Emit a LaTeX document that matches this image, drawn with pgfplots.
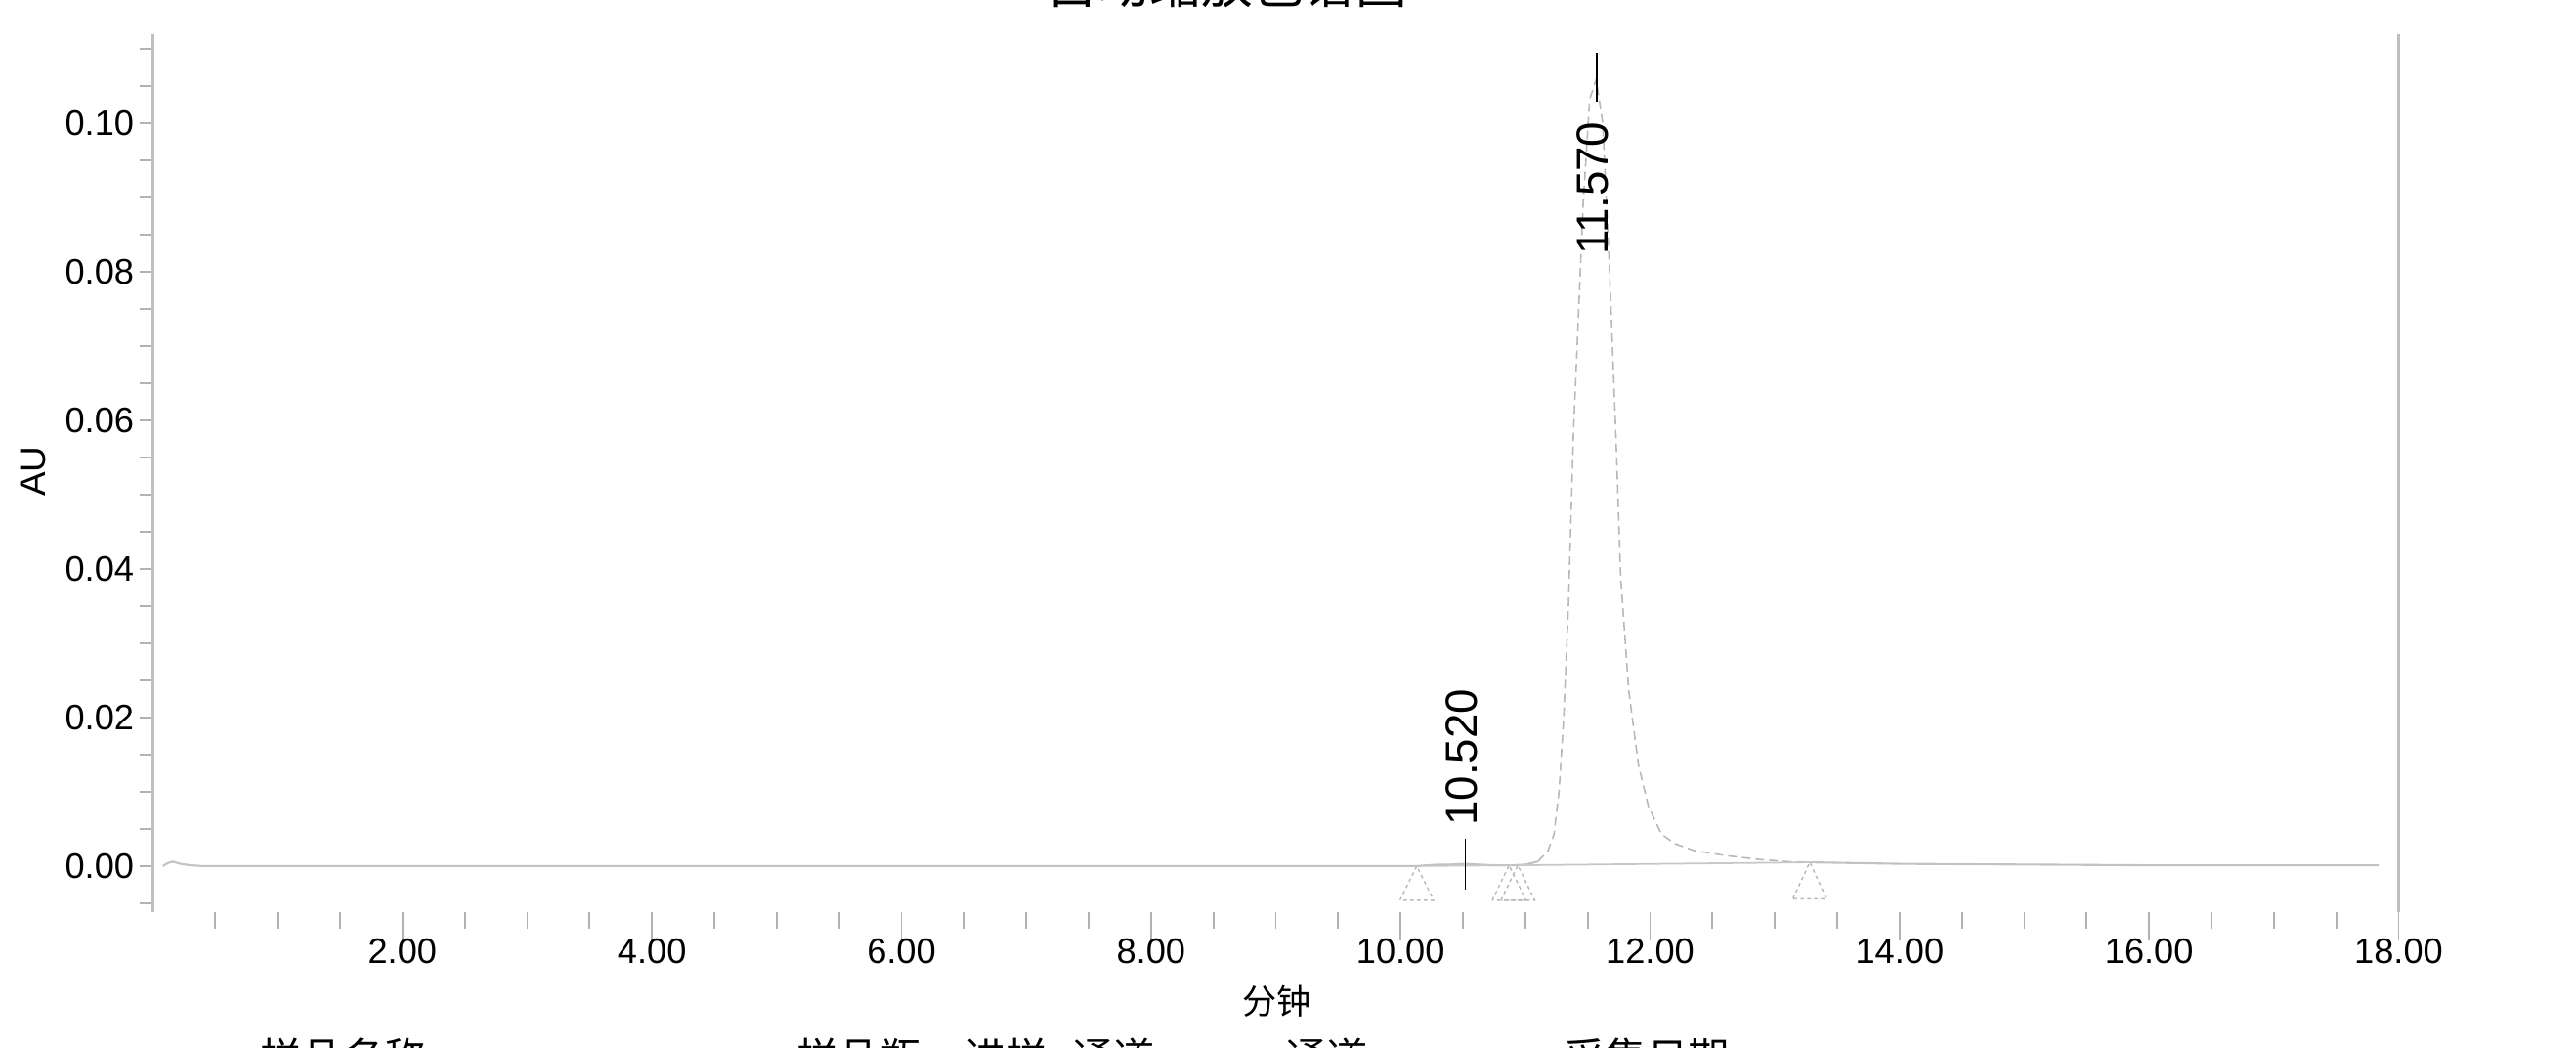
\documentclass[border=0pt]{standalone}
\usepackage{pgfplots}
\pgfplotsset{compat=1.18}
\usepackage{fontspec}
\setmainfont{Liberation Sans}
\newfontfamily\cjk{Noto Sans CJK SC}

\pgfplotstableread{
x y
0.08 0.0000
0.12 0.0004
0.16 0.0006
0.22 0.0003
0.30 0.0001
0.40 0.0000
2.00 0.0000
5.00 0.0000
8.00 0.0000
10.00 0.0000
10.13 0.0000
10.30 0.0002
10.40 0.0002
10.52 0.0003
10.62 0.0002
10.75 0.0001
10.90 0.0001
11.00 0.0002
11.10 0.0006
}\traceA

\pgfplotstableread{
x y
11.10 0.0006
11.18 0.0020
11.23 0.0043
11.27 0.0100
11.307 0.0197
11.346 0.0352
11.386 0.0584
11.425 0.0738
11.464 0.0893
11.516 0.1032
11.568 0.1059
11.62 0.1001
11.672 0.0815
11.725 0.0584
11.764 0.0390
11.829 0.0236
11.908 0.0135
11.986 0.0081
12.09 0.0043
12.20 0.0030
12.35 0.0021
12.61 0.0014
12.87 0.0009
13.10 0.0006
13.28 0.0005
}\peak

\pgfplotstableread{
x y
13.28 0.0005
14.00 0.0003
15.00 0.0002
16.00 0.0001
17.00 0.0001
17.84 0.0001
}\traceB

\begin{document}
\begin{tikzpicture}
\useasboundingbox (-1.565,-1.39) rectangle (24.795,9.33);
% y-axis (ticks and labels)
\begin{axis}[
  at={(0,0)}, anchor=south west,
  scale only axis, width=22.98cm, height=8.983cm,
  xmin=0, xmax=18, ymin=-0.0062, ymax=0.112,
  axis x line=none, axis y line*=left,
  y axis line style={black!25, line width=0.6pt, -},
  xtick=\empty,
  ytick={0,0.02,0.04,0.06,0.08,0.1},
  minor ytick={-0.005,0.005,0.01,0.015,0.025,0.03,0.035,0.045,0.05,0.055,0.065,0.07,0.075,0.085,0.09,0.095,0.105,0.11},
  tick align=outside,
  major tick length=0.13cm, minor tick length=0.13cm,
  tick style={black!30, line width=0.5pt},
  yticklabel style={font=\fontsize{10.3}{12}\selectfont, xshift=0.06cm},
  /pgf/number format/fixed, /pgf/number format/fixed zerofill,
  /pgf/number format/precision=2, /pgf/number format/assume math mode=true,
  ylabel={AU},
  ylabel style={at={(axis description cs:-0.0533,0.502)}, anchor=center, font=\fontsize{10.5}{12}\selectfont},
  scaled y ticks=false,
]
\end{axis}
% main axis (x ticks and data)
\begin{axis}[
  at={(0,0)}, anchor=south west,
  scale only axis, width=22.98cm, height=8.983cm,
  xmin=0, xmax=18, ymin=-0.0062, ymax=0.112,
  axis x line*=bottom, axis y line=none,
  x axis line style={draw=none},
  ytick=\empty,
  xtick={2,4,6,8,10,12,14,16,18},
  minor xtick={0.5,1,1.5,2.5,3,3.5,4.5,5,5.5,6.5,7,7.5,8.5,9,9.5,10.5,11,11.5,12.5,13,13.5,14.5,15,15.5,16.5,17,17.5},
  extra x ticks={18}, extra x tick labels={},
  extra x tick style={grid=major, major grid style={black!25, line width=0.6pt}},
  tick align=outside,
  major tick length=0.29cm, minor tick length=0.17cm,
  tick style={black!30, line width=0.5pt},
  xticklabel style={font=\fontsize{10.3}{12}\selectfont, yshift=0.14cm},
  /pgf/number format/fixed, /pgf/number format/fixed zerofill,
  /pgf/number format/precision=2, /pgf/number format/assume math mode=true,
  xlabel={\cjk 分钟},
  xlabel style={at={(axis description cs:0.5004,-0.1013)}, anchor=center, font=\fontsize{10}{12}\selectfont},
  clip=false,
]
\addplot[black!24, line width=0.6pt] table[x=x,y=y] {\traceA};
\addplot[black!24, line width=0.6pt] table[x=x,y=y] {\traceB};
\addplot[black!28, line width=0.45pt, dash pattern=on 2.5pt off 1.5pt] table[x=x,y=y] {\peak};
% integration baselines
\addplot[black!22, line width=0.5pt] coordinates {(10.13,0.0000) (10.89,0.0001)};
\addplot[black!22, line width=0.5pt] coordinates {(10.94,0.0001) (13.28,0.0005)};
% peak start/end triangles
\addplot[black!28, line width=0.4pt, dash pattern=on 1pt off 1pt] coordinates {(9.995,-0.0046) (10.13,0.0000) (10.265,-0.0046) (9.995,-0.0046)};
\addplot[black!28, line width=0.4pt, dash pattern=on 1pt off 1pt] coordinates {(10.735,-0.0046) (10.87,0.0001) (11.005,-0.0046) (10.735,-0.0046)};
\addplot[black!28, line width=0.4pt, dash pattern=on 1pt off 1pt] coordinates {(10.805,-0.0046) (10.94,0.0001) (11.075,-0.0046) (10.805,-0.0046)};
\addplot[black!28, line width=0.4pt, dash pattern=on 1pt off 1pt] coordinates {(13.145,-0.0044) (13.28,0.0005) (13.415,-0.0044) (13.145,-0.0044)};
% retention time markers
\addplot[black, line width=0.5pt] coordinates {(10.52,0.0037) (10.52,-0.0032)};
\addplot[black, line width=0.5pt] coordinates {(11.57,0.1029) (11.57,0.1095)};
\node[rotate=90, anchor=center, inner sep=0pt, font=\fontsize{13}{14}\selectfont] at (axis cs:10.49,0.0146) {10.520};
\node[rotate=90, anchor=center, inner sep=0pt, font=\fontsize{13}{14}\selectfont] at (axis cs:11.54,0.0912) {11.570};
\end{axis}
% clipped title and footer text (cut by the page edge, as in the reference)
\node[anchor=base, inner sep=0pt, font=\cjk\fontsize{15}{17}\selectfont] at (10.99,9.295) {自动缩放色谱图};
\begin{scope}[every node/.style={anchor=base west, inner sep=0pt, font=\cjk\fontsize{12}{14}\selectfont}]
\node at (1.095,-1.65) {样品名称};
\node at (6.585,-1.65) {样品瓶};
\node at (8.300,-1.65) {进样};
\node at (9.400,-1.65) {通道};
\node at (11.585,-1.65) {通道};
\node at (14.435,-1.65) {采集日期};
\end{scope}
\end{tikzpicture}
\end{document}
